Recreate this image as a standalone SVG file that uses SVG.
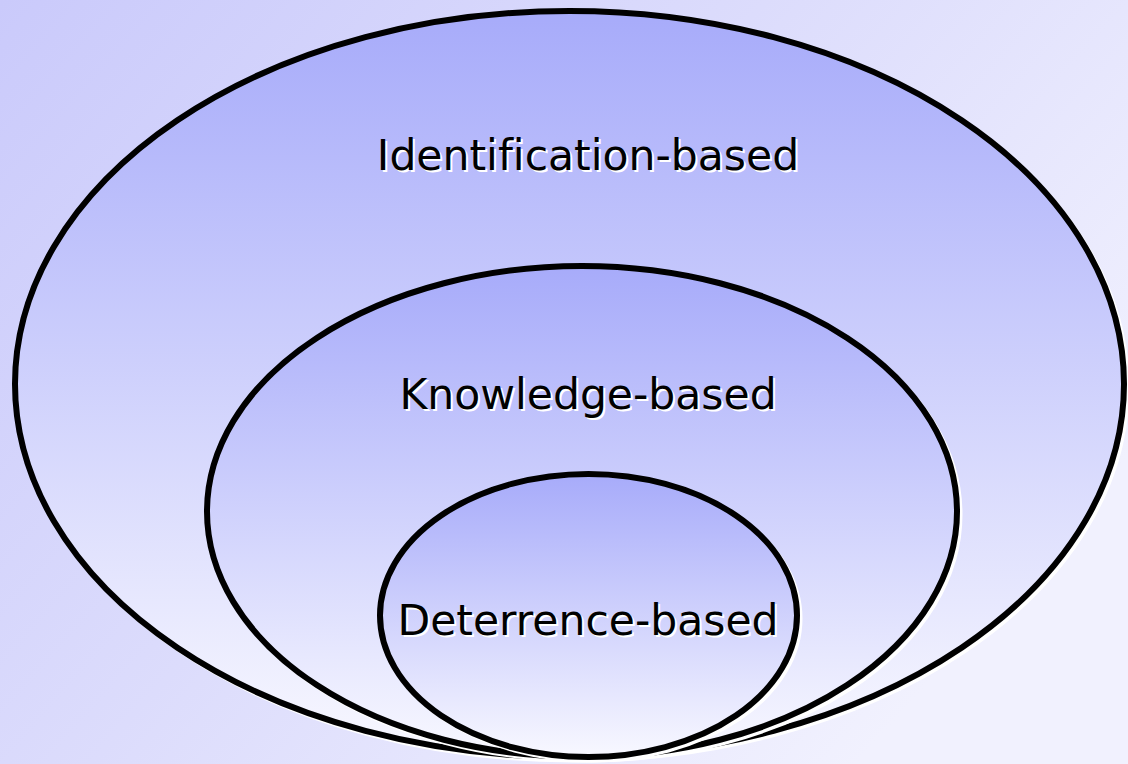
<svg xmlns="http://www.w3.org/2000/svg" width="1128" height="764" viewBox="0 0 1128 764">
  <defs>
    <linearGradient id="bg" x1="0" y1="0" x2="1" y2="0.6">
      <stop offset="0" stop-color="#cacafb"/>
      <stop offset="0.5" stop-color="#dcdcfc"/>
      <stop offset="1" stop-color="#f1f1fe"/>
    </linearGradient>
    <linearGradient id="fill" x1="0" y1="0" x2="0" y2="1">
      <stop offset="0" stop-color="#a7abfa"/>
      <stop offset="1" stop-color="#f8f8ff"/>
    </linearGradient>
    <style>
      .shadow { fill: none; stroke: #ffffff; stroke-width: 5; }
      .ell { fill: url(#fill); stroke: #000000; stroke-width: 6; }
      .lbl { font-family: "DejaVu Sans", Verdana, sans-serif; font-size: 42.5px; text-anchor: middle; font-variant-ligatures: none; }
      .lbl-sh { fill: #ffffff; }
      .lbl-fg { fill: #000000; }
    </style>
  </defs>
  <rect width="1128" height="764" fill="url(#bg)"/>
  <g id="identification">
    <ellipse class="shadow" cx="572.5" cy="387" rx="554.5" ry="373"/>
    <ellipse class="ell" cx="569.5" cy="384" rx="554.5" ry="373"/>
    <text class="lbl lbl-sh" x="590" y="172">Identification-based</text>
    <text class="lbl lbl-fg" x="588" y="170">Identification-based</text>
  </g>
  <g id="knowledge">
    <ellipse class="shadow" cx="585" cy="514.5" rx="375" ry="245.5"/>
    <ellipse class="ell" cx="582" cy="511.5" rx="375" ry="245.5"/>
    <text class="lbl lbl-sh" x="590" y="411">Knowledge-based</text>
    <text class="lbl lbl-fg" x="588" y="409">Knowledge-based</text>
  </g>
  <g id="deterrence">
    <ellipse class="shadow" cx="591.5" cy="618.5" rx="208.5" ry="141.5"/>
    <ellipse class="ell" cx="588.5" cy="615.5" rx="208.5" ry="141.5"/>
    <text class="lbl lbl-sh" x="590" y="637">Deterrence-based</text>
    <text class="lbl lbl-fg" x="588" y="635">Deterrence-based</text>
  </g>
  <g id="connectors"/>
</svg>
